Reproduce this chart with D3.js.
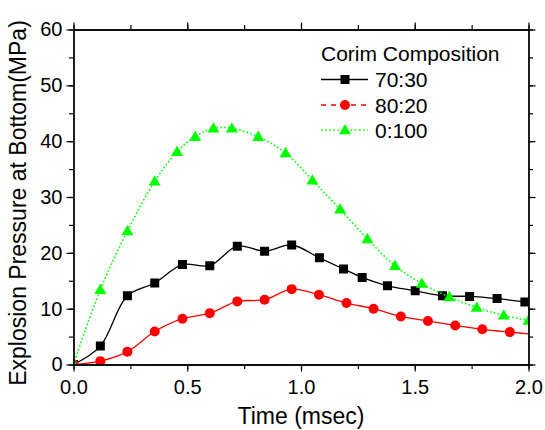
<!DOCTYPE html>
<html><head><meta charset="utf-8">
<script src="https://cdn.jsdelivr.net/npm/d3@7"></script>
<style>body{margin:0;background:#fff}</style>
</head><body>
<svg id="c" width="545" height="430"></svg>
<script>
// ---- data ----
const xTicks = [0, 0.5, 1.0, 1.5, 2.0];
const xTickLabels = ["0.0", "0.5", "1.0", "1.5", "2.0"];
const yTicks = [0, 10, 20, 30, 40, 50, 60];
const yTickLabels = ["0", "10", "20", "30", "40", "50", "60"];
const seriesNames = ["70:30", "80:20", "0:100"];
const legendTitle = "Corim Composition";

const time7030 = [0, 0.118, 0.237, 0.357, 0.479, 0.599, 0.72, 0.84, 0.959, 1.081, 1.187, 1.269, 1.38, 1.502, 1.622, 1.741, 1.862, 1.984];
const press7030 = [0, 3.3, 12.3, 14.6, 17.9, 17.7, 21.2, 20.3, 21.4, 19.1, 17.1, 15.6, 14.1, 13.2, 12.3, 12.2, 11.8, 11.2];

const time8020 = [0, 0.118, 0.237, 0.357, 0.479, 0.599, 0.72, 0.84, 0.959, 1.079, 1.2, 1.319, 1.439, 1.558, 1.678, 1.797, 1.918, 2.0];
const press8020 = [0, 0.6, 2.3, 5.9, 8.2, 9.2, 11.3, 11.6, 13.5, 12.5, 11.0, 10.0, 8.6, 7.8, 7.0, 6.3, 5.8, 5.5];

const time0100 = [0, 0.118, 0.237, 0.357, 0.455, 0.535, 0.615, 0.696, 0.812, 0.932, 1.05, 1.172, 1.292, 1.413, 1.531, 1.652, 1.772, 1.891, 2.0];
const press0100 = [0, 13.4, 23.9, 32.8, 38.1, 40.8, 42.3, 42.3, 40.8, 37.9, 33.0, 27.8, 22.5, 17.7, 14.5, 12.1, 10.2, 8.8, 7.9];

// ---- layout ----
const svg = d3.select("#c");
const L = 73.5, R = 528.5, T = 29.5, B = 364.5;
const x = d3.scaleLinear().domain([0, 2]).range([L, R]);
const y = d3.scaleLinear().domain([0, 60]).range([B, T]);
const FONT = "'Liberation Sans', Arial, Helvetica, sans-serif";

const series = [
  {name: seriesNames[0], t: time7030, p: press7030, color: "#000000", dash: null, legendDash: null, width: 1.3, sym: "square", markers: time7030.length},
  {name: seriesNames[1], t: time8020, p: press8020, color: "#ff0000", dash: null, legendDash: "5,5", width: 1.3, sym: "circle", markers: time8020.length - 1},
  {name: seriesNames[2], t: time0100, p: press0100, color: "#00ff00", dash: "1.6,2.2", legendDash: "1.6,2.6", width: 1.6, sym: "triangle", markers: time0100.length}
];

svg.append("defs").append("clipPath").attr("id", "clip")
  .append("rect").attr("x", L).attr("y", T).attr("width", R - L).attr("height", B - T);

function symbolPath(sym) {
  if (sym === "square") return d3.symbol().type(d3.symbolSquare).size(81)();
  if (sym === "circle") return d3.symbol().type(d3.symbolCircle).size(Math.PI * 5 * 5)();
  return d3.symbol().type(d3.symbolTriangle).size(62)();
}

const plot = svg.append("g").attr("clip-path", "url(#clip)");
const line = d3.line().curve(d3.curveCatmullRom.alpha(0.5)).x(d => x(d[0])).y(d => y(d[1]));

series.forEach(s => {
  const pts = s.t.map((t, i) => [t, s.p[i]]);
  plot.append("path").attr("d", line(pts)).attr("fill", "none")
    .attr("stroke", s.color).attr("stroke-width", s.width)
    .attr("stroke-dasharray", s.dash);
  plot.selectAll(null).data(pts.slice(0, s.markers)).enter().append("path")
    .attr("d", symbolPath(s.sym))
    .attr("transform", d => `translate(${x(d[0])},${y(d[1]) + (s.sym === "triangle" ? 0.8 : 0)})`)
    .attr("fill", s.color);
});

// ---- axes ----
const xMinor = d3.range(0, 2.01, 0.25);
const yMinor = d3.range(0, 60.1, 5);
function axisStyle(g) {
  g.select(".domain").attr("stroke", "#000").attr("stroke-width", 1.3);
  g.selectAll(".tick line").attr("stroke", "#000").attr("stroke-width", 1.2);
  g.selectAll("text").attr("font-family", FONT).attr("fill", "#000");
}
// minor
svg.append("g").attr("transform", `translate(0,${B})`)
  .call(d3.axisBottom(x).tickValues(xMinor).tickSize(4.5).tickFormat("").tickSizeOuter(0)).call(axisStyle);
svg.append("g").attr("transform", `translate(0,${T})`)
  .call(d3.axisTop(x).tickValues(xMinor).tickSize(4.5).tickFormat("").tickSizeOuter(0)).call(axisStyle);
svg.append("g").attr("transform", `translate(${L},0)`)
  .call(d3.axisLeft(y).tickValues(yMinor).tickSize(4.5).tickFormat("").tickSizeOuter(0)).call(axisStyle);
svg.append("g").attr("transform", `translate(${R},0)`)
  .call(d3.axisRight(y).tickValues(yMinor).tickSize(4.5).tickFormat("").tickSizeOuter(0)).call(axisStyle);
// major
const gx = svg.append("g").attr("transform", `translate(0,${B})`)
  .call(d3.axisBottom(x).tickValues(xTicks).tickSize(7).tickPadding(8).tickSizeOuter(0)
    .tickFormat((d, i) => xTickLabels[i])).call(axisStyle);
gx.selectAll("text").attr("font-size", 20);
svg.append("g").attr("transform", `translate(0,${T})`)
  .call(d3.axisTop(x).tickValues(xTicks).tickSize(7).tickFormat("").tickSizeOuter(0)).call(axisStyle);
const gy = svg.append("g").attr("transform", `translate(${L},0)`)
  .call(d3.axisLeft(y).tickValues(yTicks).tickSize(7).tickPadding(4).tickSizeOuter(0)
    .tickFormat((d, i) => yTickLabels[i])).call(axisStyle);
gy.selectAll("text").attr("font-size", 20);
svg.append("g").attr("transform", `translate(${R},0)`)
  .call(d3.axisRight(y).tickValues(yTicks).tickSize(7).tickFormat("").tickSizeOuter(0)).call(axisStyle);

// ---- axis titles ----
svg.append("text").attr("x", (L + R) / 2).attr("y", 424).attr("text-anchor", "middle")
  .attr("font-family", FONT).attr("font-size", 23).text("Time (msec)");
svg.append("text").attr("transform", "translate(26,203) rotate(-90)").attr("text-anchor", "middle")
  .attr("font-family", FONT).attr("font-size", 23).text("Explosion Pressure at Bottom(MPa)");

// ---- legend ----
const lg = svg.append("g");
lg.append("text").attr("x", 321).attr("y", 61).attr("font-family", FONT).attr("font-size", 21).text(legendTitle);
const rowY = [79.5, 105, 130];
series.forEach((s, i) => {
  const cy = rowY[i];
  lg.append("line").attr("x1", 321).attr("x2", 368).attr("y1", cy).attr("y2", cy)
    .attr("stroke", s.color).attr("stroke-width", s.width).attr("stroke-dasharray", s.legendDash);
  lg.append("path").attr("d", symbolPath(s.sym))
    .attr("transform", `translate(345,${cy + (s.sym === "triangle" ? 0.8 : 0)})`).attr("fill", s.color);
  lg.append("text").attr("x", 375).attr("y", cy + 7.5).attr("font-family", FONT).attr("font-size", 21).text(s.name);
});
</script>
</body></html>
